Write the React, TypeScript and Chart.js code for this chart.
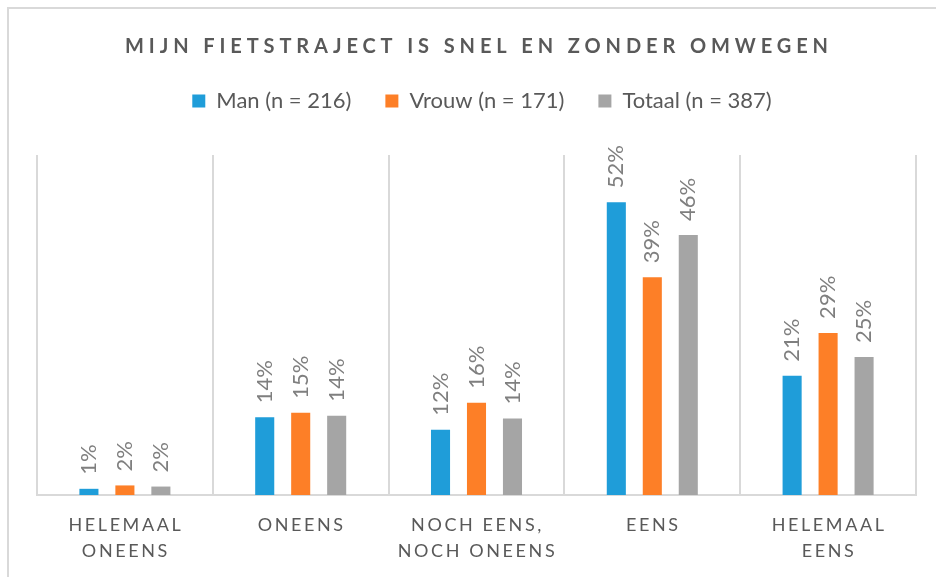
import React, { useEffect, useRef } from 'react';
import { Chart, registerables } from 'chart.js';

Chart.register(...registerables);

const titleText = 'MIJN FIETSTRAJECT IS SNEL EN ZONDER OMWEGEN';
const categories: string[][] = [
  ['HELEMAAL', 'ONEENS'],
  ['ONEENS'],
  ['NOCH EENS,', 'NOCH ONEENS'],
  ['EENS'],
  ['HELEMAAL', 'EENS'],
];
const seriesNames = ['Man (n = 216)', 'Vrouw (n = 171)', 'Totaal (n = 387)'];
const manValues = [1.1, 13.8, 11.6, 52.0, 21.2];
const vrouwValues = [1.7, 14.6, 16.4, 38.7, 28.8];
const totaalValues = [1.5, 14.1, 13.6, 46.2, 24.5];
const seriesColors = ['#1f9dd9', '#fd7f27', '#a5a5a5'];

const FONT = 'Lato';
const TEXT = '#595959';

const W = 946;
const H = 568;
const AREA_LEFT = 28;
const AREA_RIGHT = 907;
const AREA_BOTTOM = 486;

const textPlugin = {
  id: 'customText',
  afterDatasetsDraw(chart: any) {
    const ctx = chart.ctx as CanvasRenderingContext2D;
    chart.data.datasets.forEach((ds: any, di: number) => {
      const meta = chart.getDatasetMeta(di);
      meta.data.forEach((bar: any, i: number) => {
        const label = Math.round(ds.data[i]) + '%';
        ctx.save();
        ctx.translate(bar.x, bar.y - 14);
        ctx.rotate(-Math.PI / 2);
        ctx.font = `22px ${FONT}`;
        ctx.fillStyle = '#7f7f7f';
        ctx.textAlign = 'left';
        ctx.textBaseline = 'middle';
        ctx.fillText(label, 0, 0);
        ctx.restore();
      });
    });
  },
  afterDraw(chart: any) {
    const ctx = chart.ctx as CanvasRenderingContext2D;
    // title
    ctx.save();
    (ctx as any).letterSpacing = '4.9px';
    ctx.font = `bold 20px ${FONT}`;
    ctx.fillStyle = TEXT;
    ctx.textAlign = 'center';
    ctx.textBaseline = 'middle';
    ctx.fillText(titleText, 470, 38);
    ctx.restore();
    // x labels
    const xs = chart.scales.x;
    ctx.save();
    (ctx as any).letterSpacing = '2.6px';
    ctx.font = `18px ${FONT}`;
    ctx.fillStyle = TEXT;
    ctx.textAlign = 'center';
    ctx.textBaseline = 'middle';
    categories.forEach((lines, i) => {
      const x = xs.getPixelForValue(i) + 1;
      lines.forEach((ln, li) => {
        ctx.fillText(ln, x, 516 + li * 26);
      });
    });
    ctx.restore();
  },
};

export default function App() {
  const ref = useRef<HTMLCanvasElement>(null);
  useEffect(() => {
    if (!ref.current) return;
    const values = [manValues, vrouwValues, totaalValues];
    const chart = new Chart(ref.current, {
      type: 'bar',
      data: {
        labels: categories.map((c) => c.join(' ')),
        datasets: seriesNames.map((name, i) => ({
          label: name,
          data: values[i],
          backgroundColor: seriesColors[i],
          borderWidth: 0,
          categoryPercentage: 0.614,
          barPercentage: 0.53,
        })),
      },
      options: {
        responsive: false,
        animation: false,
        devicePixelRatio: 1,
        layout: { padding: { top: 47, left: 0, right: 0, bottom: 0 } },
        plugins: {
          title: { display: false },
          tooltip: { enabled: false },
          legend: {
            display: true,
            position: 'top',
            labels: {
              boxWidth: 13,
              boxHeight: 13,
              padding: 34,
              color: TEXT,
              font: { family: FONT, size: 22 },
            },
          },
        },
        scales: {
          x: {
            type: 'category',
            position: 'bottom',
            offset: true,
            grid: { display: true, offset: true, color: '#d9d9d9', lineWidth: 2, drawTicks: false },
            border: { display: true, color: '#d9d9d9', width: 2 },
            ticks: { display: false },
            afterFit: (s: any) => { s.height = H - AREA_BOTTOM; },
          },
          xTop: {
            type: 'category',
            position: 'top',
            display: true,
            grid: { display: false },
            border: { display: false },
            ticks: { display: false },
            afterFit: (s: any) => { s.height = 33; },
          },
          y: {
            type: 'linear',
            position: 'left',
            min: 0,
            max: 60.4,
            display: true,
            grid: { display: false },
            border: { display: false },
            ticks: { display: false },
            afterFit: (s: any) => { s.width = AREA_LEFT; },
          },
          yR: {
            type: 'linear',
            position: 'right',
            display: true,
            grid: { display: false },
            border: { display: false },
            ticks: { display: false },
            afterFit: (s: any) => { s.width = W - AREA_RIGHT; },
          },
        },
      } as any,
      plugins: [textPlugin],
    });
    return () => chart.destroy();
  }, []);

  return (
    <div
      style={{
        position: 'fixed',
        left: 7,
        top: 7,
        width: 929,
        height: 570,
        borderLeft: '2px solid #d9d9d9',
        borderTop: '2px solid #d9d9d9',
        overflow: 'hidden',
        background: '#ffffff',
      }}
    >
      <canvas ref={ref} width={W} height={H} style={{ display: 'block', width: W, height: H }} />
    </div>
  );
}
